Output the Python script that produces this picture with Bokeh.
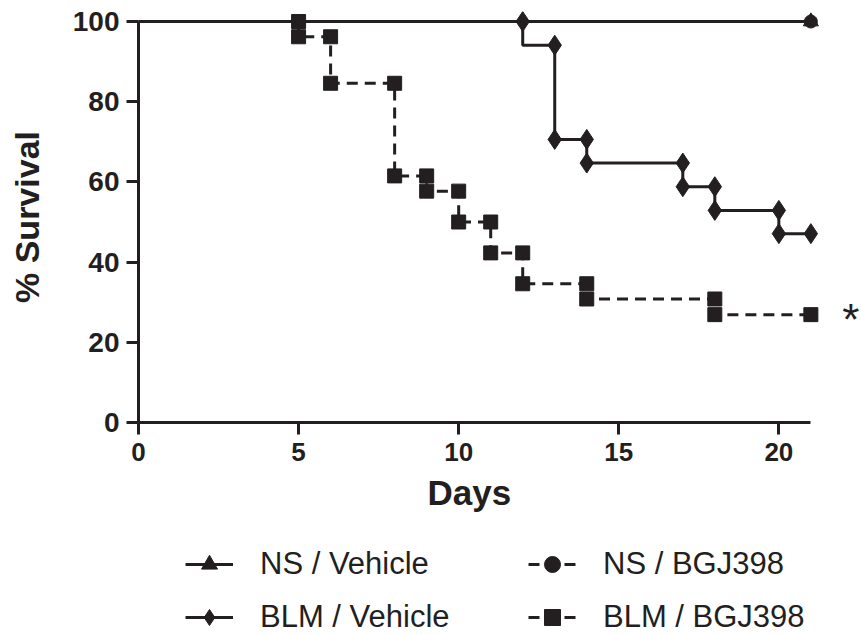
from bokeh.plotting import figure
from bokeh.layouts import column
from bokeh.models import Range1d, Legend, LegendItem, Label, Title
from bokeh.embed import file_html
from bokeh.resources import INLINE

# ---------------- data ----------------
x_ticks = [0, 5, 10, 15, 20]
y_ticks = [0, 20, 40, 60, 80, 100]
x_end = 21

# NS / Vehicle : no deaths
ns_veh_t = [0, 21]
ns_veh_s = [100, 100]
ns_veh_mark_t = [21]
ns_veh_mark_s = [100]

# NS / BGJ398 : no deaths
ns_bgj_t = [0, 21]
ns_bgj_s = [100, 100]
ns_bgj_mark_t = [21]
ns_bgj_mark_s = [100]

# BLM / Vehicle
blm_veh_t = [0, 12, 13, 14, 17, 18, 20, 21]
blm_veh_s = [100, 94.1, 70.6, 64.7, 58.8, 52.9, 47.1, 47.1]
blm_veh_mark_t = [12, 13, 13, 14, 14, 17, 17, 18, 18, 20, 20, 21]
blm_veh_mark_s = [100, 94.1, 70.6, 70.6, 64.7, 64.7, 58.8, 58.8, 52.9, 52.9, 47.1, 47.1]

# BLM / BGJ398
blm_bgj_t = [0, 5, 6, 8, 9, 10, 11, 12, 14, 18, 21]
blm_bgj_s = [100, 96.2, 84.6, 61.5, 57.7, 50.0, 42.3, 34.6, 30.8, 26.9, 26.9]
blm_bgj_mark_t = [5, 5, 6, 6, 8, 8, 9, 9, 10, 10, 11, 11, 12, 12, 14, 14, 18, 18, 21]
blm_bgj_mark_s = [100, 96.2, 96.2, 84.6, 84.6, 61.5, 61.5, 57.7, 57.7, 50.0, 50.0,
                  42.3, 42.3, 34.6, 34.6, 30.8, 30.8, 26.9, 26.9]

labels = ["NS / Vehicle", "NS / BGJ398", "BLM / Vehicle", "BLM / BGJ398"]
x_title = "Days"
y_title = "% Survival"
signif_text = "*"

SERIES = {
    "ns_veh": (ns_veh_t, ns_veh_s, ns_veh_mark_t, ns_veh_mark_s),
    "ns_bgj": (ns_bgj_t, ns_bgj_s, ns_bgj_mark_t, ns_bgj_mark_s),
    "blm_veh": (blm_veh_t, blm_veh_s, blm_veh_mark_t, blm_veh_mark_s),
    "blm_bgj": (blm_bgj_t, blm_bgj_s, blm_bgj_mark_t, blm_bgj_mark_s),
}

# ---------------- styling ----------------
INK = "#231f20"
FONT = "Liberation Sans"
DASH = "11 7"
LW = 3

# series styles: (line dash, marker, marker size)
STYLE = {
    "ns_veh": (None, "triangle", 15),
    "ns_bgj": (DASH, "circle", 13),
    "blm_veh": (None, "diamond", 20),
    "blm_bgj": (DASH, "square", 14),
}


def line_kw(key):
    dash = STYLE[key][0]
    kw = dict(line_color=INK, line_width=LW)
    if dash:
        kw["line_dash"] = dash
    return kw


def mark_kw(key):
    return dict(marker=STYLE[key][1], size=STYLE[key][2], fill_color=INK, line_color=INK)


# ================= main plot =================
p = figure(
    frame_width=722, frame_height=411,
    min_border_left=138, min_border_right=1,
    min_border_top=11, min_border_bottom=113,
    x_range=Range1d(0, 22.55), y_range=Range1d(0, 102.5),
    output_backend="svg", toolbar_location=None,
    background_fill_color="white", border_fill_color="white",
)
p.outline_line_color = None
p.grid.visible = False

for key in ("ns_bgj", "ns_veh", "blm_veh", "blm_bgj"):
    t, s, _, _ = SERIES[key]
    p.step(t, s, mode="after", **line_kw(key))
for key in ("ns_veh", "ns_bgj", "blm_veh", "blm_bgj"):
    _, _, mt, ms = SERIES[key]
    p.scatter(mt, ms, **mark_kw(key))

for ax in (p.xaxis[0], p.yaxis[0]):
    ax.axis_line_width = LW
    ax.axis_line_color = INK
    ax.major_tick_line_width = LW
    ax.major_tick_line_color = INK
    ax.major_tick_in = 0
    ax.major_tick_out = 12
    ax.minor_tick_line_color = None
    ax.major_label_text_font = FONT
    ax.major_label_text_font_style = "bold"
    ax.major_label_text_color = INK
    ax.axis_label_text_font = FONT
    ax.axis_label_text_font_style = "bold"
    ax.axis_label_text_color = INK

p.xaxis.bounds = (0, x_end)
p.yaxis.bounds = (0, 100)
p.xaxis.ticker = x_ticks
p.yaxis.ticker = y_ticks
p.xaxis.major_label_text_font_size = "26px"
p.yaxis.major_label_text_font_size = "28px"
p.xaxis.major_label_standoff = 8
p.yaxis.major_label_standoff = 7
p.yaxis.axis_label = y_title
p.yaxis.axis_label_text_font_size = "34px"
p.yaxis.axis_label_standoff = 24

# x-axis title, centred under the axis (not the wider frame)
p.add_layout(Title(text=x_title, align="left", offset=289, standoff=14,
                   text_font=FONT, text_font_style="bold", text_font_size="35px",
                   text_color=INK), "below")

# significance mark
p.add_layout(Label(x=blm_bgj_t[-1], y=blm_bgj_s[-1], x_offset=40, y_offset=-5,
                   text=signif_text, text_font=FONT, text_font_size="44px",
                   text_align="center", text_baseline="alphabetic", text_color=INK))

# ================= legend strip =================
# The legend lives in its own strip; its renderers carry the series but the
# strip's ranges keep them out of view, so only the legend glyphs show.
q = figure(width=861, height=100, x_axis_location=None, y_axis_location=None,
           x_range=Range1d(-2, -1), y_range=Range1d(-2, -1), min_border=0,
           output_backend="svg", toolbar_location=None,
           background_fill_color="white", border_fill_color="white")
q.outline_line_color = None
q.grid.visible = False


def legend_item(label, key):
    t, s, mt, ms = SERIES[key]
    rl = q.step(t, s, mode="after", **line_kw(key))
    rm = q.scatter(mt, ms, **mark_kw(key))
    return LegendItem(label=label, renderers=[rl, rm])


def make_legend(items, loc):
    return Legend(items=items, location=loc, orientation="vertical",
                  glyph_width=48, glyph_height=40, label_standoff=27, spacing=13,
                  padding=0, margin=0, border_line_color=None,
                  background_fill_alpha=0, label_text_font=FONT,
                  label_text_font_size="31px", label_text_color=INK)


# the strip's frame is aligned with the main frame (left edge at x = 138 px)
leg1 = make_legend([legend_item(labels[0], "ns_veh"),
                    legend_item(labels[2], "blm_veh")], (47, -2))
leg2 = make_legend([legend_item(labels[1], "ns_bgj"),
                    legend_item(labels[3], "blm_bgj")], (390, -2))
q.add_layout(leg1, "center")
q.add_layout(leg2, "center")

page = column(p, q, spacing=0)
open("out.html", "w").write(file_html(page, INLINE))
